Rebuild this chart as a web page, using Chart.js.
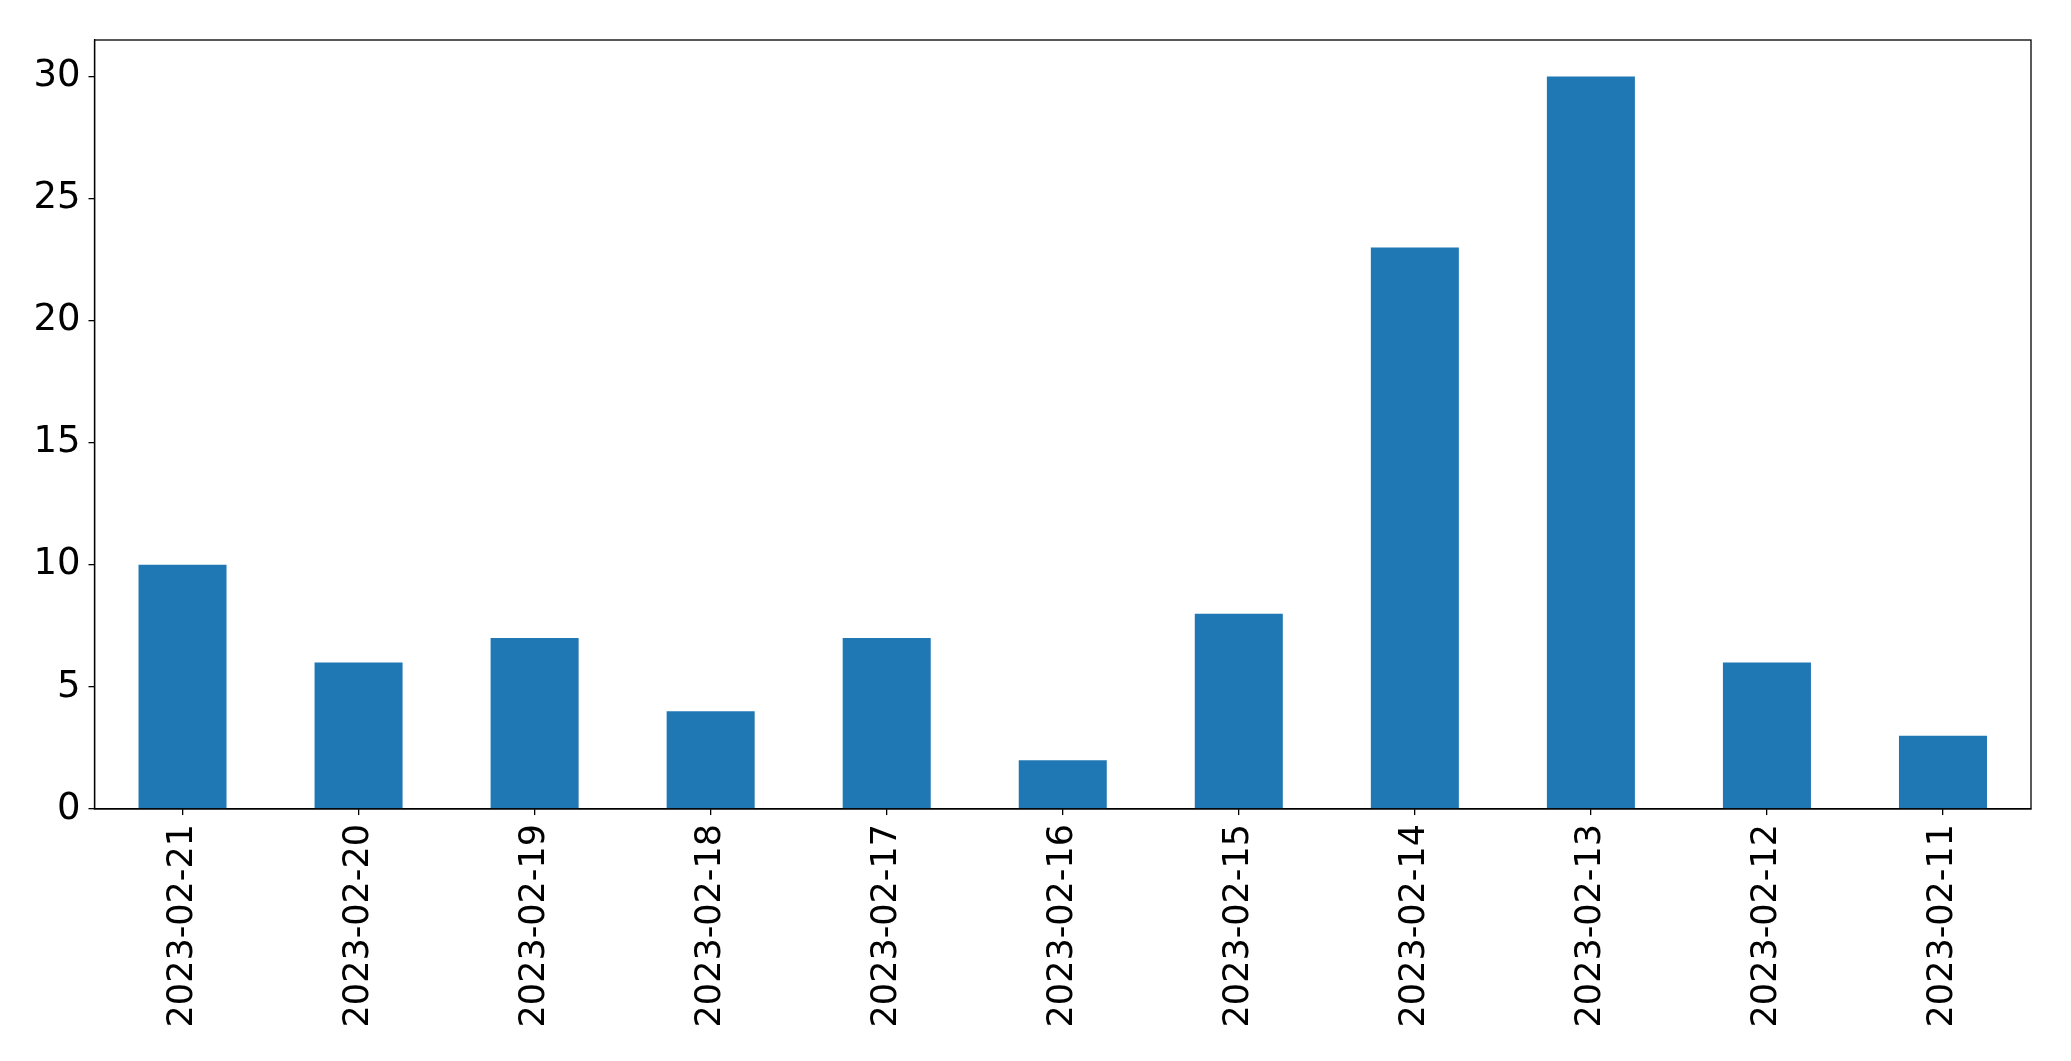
<!DOCTYPE html>
<html lang="en">
<head>
    <meta charset="UTF-8">
    <title>Daily counts</title>
    <script src="https://cdn.jsdelivr.net/npm/chart.js"></script>
    <style>
        body { margin: 0; background: #fff; }
    </style>
</head>
<body>
    <canvas id="barChart" width="2071" height="1061"></canvas>

    <script>
        // chart data
        const dates = ["2023-02-21", "2023-02-20", "2023-02-19", "2023-02-18", "2023-02-17", "2023-02-16",
            "2023-02-15", "2023-02-14", "2023-02-13", "2023-02-12", "2023-02-11"];
        const counts = [10, 6, 7, 4, 7, 2, 8, 23, 30, 6, 3];
        const yTicks = [0, 5, 10, 15, 20, 25, 30];

        // draws the box round the plot area (matplotlib style)
        const frame = {
            id: "frame",
            afterDraw(chart) {
                const a = chart.chartArea;
                const c = chart.ctx;
                c.save();
                c.strokeStyle = "#000";
                c.lineWidth = 1.3;
                c.strokeRect(a.left, a.top, a.right - a.left, a.bottom - a.top);
                c.restore();
            }
        };

        new Chart(document.getElementById("barChart").getContext("2d"), {
            type: "bar",
            data: {
                labels: dates,
                datasets: [{
                    data: counts,
                    backgroundColor: "#1f77b4",
                    barPercentage: 0.5,
                    categoryPercentage: 1.0,
                }],
            },
            options: {
                responsive: false,
                animation: false,
                layout: { padding: { top: 40, right: 40, left: 0, bottom: 0 } },
                plugins: { legend: { display: false }, tooltip: { enabled: false } },
                scales: {
                    x: {
                        grid: { offset: false, drawOnChartArea: false, color: "#000", tickLength: 6, lineWidth: 1.3 },
                        border: { color: "#000", width: 1.3 },
                        ticks: { color: "#000", font: { family: "DejaVu Sans", size: 35 }, minRotation: 90, maxRotation: 90, padding: 9 },
                        afterFit(s) { s.height = 252; },
                    },
                    y: {
                        min: 0,
                        max: 31.5,
                        afterBuildTicks(s) { s.ticks = yTicks.map(v => ({ value: v })); },
                        grid: { drawOnChartArea: false, color: "#000", tickLength: 6, lineWidth: 1.3 },
                        border: { color: "#000", width: 1.3 },
                        ticks: { color: "#000", font: { family: "DejaVu Sans", size: 37 }, padding: 8 },
                        afterFit(s) { s.width = 94.5; },
                    },
                },
            },
            plugins: [frame],
        });
    </script>
</body>
</html>
